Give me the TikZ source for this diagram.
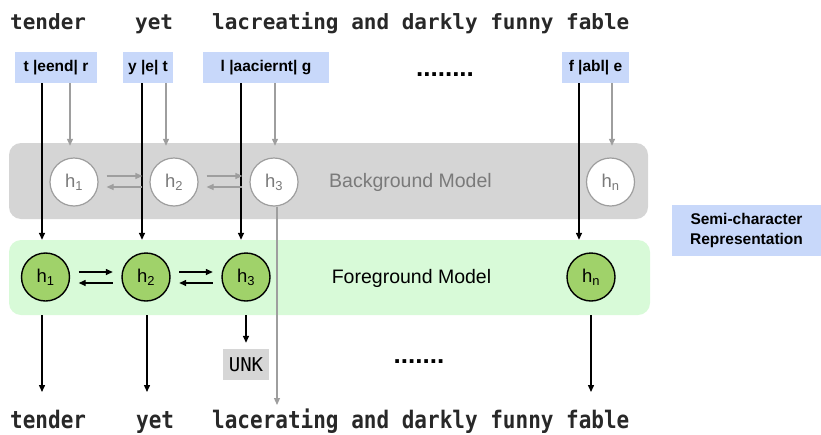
\documentclass[tikz,border=0pt]{standalone}
\usepackage{fontspec}
\setmainfont{Liberation Sans}
\newfontfamily\wordfont{DejaVu Sans Mono}
\usetikzlibrary{arrows.meta,positioning}
\definecolor{semiblue}{RGB}{200,216,250}
\definecolor{bgpanel}{RGB}{213,213,213}
\definecolor{fgpanel}{RGB}{216,250,216}
\definecolor{cellgreen}{RGB}{160,210,106}
\definecolor{bgline}{RGB}{158,158,158}
\definecolor{bgtext}{RGB}{122,122,122}
\definecolor{wordblack}{RGB}{40,40,40}
\definecolor{unkgray}{RGB}{214,214,214}
\tikzset{
  panel/.style={rectangle, rounded corners=12pt, inner sep=0pt},
  semibox/.style={rectangle, fill=semiblue, minimum height=31pt, inner sep=0pt, font=\fontsize{15.5}{18}\selectfont\bfseries},
  bgcell/.style={circle, draw=bgline, fill=white, line width=1.2pt, minimum size=48pt, inner sep=0pt, text=bgtext, font=\fontsize{18.5}{20}\selectfont},
  fgcell/.style={circle, draw=black, fill=cellgreen, line width=1.4pt, minimum size=48pt, inner sep=0pt, font=\fontsize{18.5}{20}\selectfont},
  blk/.style={line width=1.4pt, -{Triangle[length=7pt,width=6pt]}},
  gry/.style={line width=1.2pt, draw=bgline, -{Triangle[length=7pt,width=6pt]}},
  word/.style={anchor=base west, inner sep=0pt, text=wordblack, font=\wordfont\bfseries\fontsize{21}{24}\selectfont},
}
\begin{document}
\begin{tikzpicture}[x=1pt,y=-1pt]
\useasboundingbox (0,0) rectangle (821,434);

% Input sentence
\node[word] (tw1) at (10,29) {tender};
\node[word] (tw2) at (135,29) {yet};
\node[word] (tw3) at (212,29) {lacreating and darkly funny fable};

% Semi-character inputs
\node[semibox, minimum width=82pt] (tb) at (56,67.5) {t |eend| r};
\node[semibox, minimum width=50pt] (yb) at (148,67.5) {y |e| t};
\node[semibox, minimum width=126pt] (lb) at (266,67.5) {l |aaciernt| g};
\node[font=\fontsize{26}{26}\selectfont\bfseries] (topdots) at (445,75) {........};
\node[semibox, minimum width=67pt] (fb) at (595.5,67.5) {f |abl| e};

% Model panels
\node[panel, fill=bgpanel, minimum width=639pt, minimum height=76pt] (bg) at (328.5,181) {};
\node[panel, fill=fgpanel, minimum width=641pt, minimum height=75pt] (fg) at (329.5,277.5) {};
\node[text=bgtext, font=\fontsize{19.5}{22}\selectfont] (bglabel) at (410.5,182) {Background Model};
\node[font=\fontsize{19.5}{22}\selectfont] (fglabel) at (411.5,278) {Foreground Model};

% Background cells
\node[bgcell] (b1) at (74,182) {h\textsubscript{1}};
\node[bgcell] (b2) at (174,182) {h\textsubscript{2}};
\node[bgcell] (b3) at (274,182) {h\textsubscript{3}};
\node[bgcell] (bn) at (610.5,182) {h\textsubscript{n}};

% Foreground cells
\node[fgcell] (f1) at (45.5,277) {h\textsubscript{1}};
\node[fgcell] (f2) at (146,277) {h\textsubscript{2}};
\node[fgcell] (f3) at (246,277) {h\textsubscript{3}};
\node[fgcell] (fn) at (591,277) {h\textsubscript{n}};

% Legend
\node[rectangle, fill=semiblue, minimum width=149pt, minimum height=51pt, inner sep=0pt, align=center,
  font=\fontsize{15.5}{20}\selectfont\bfseries] (legend) at (746.5,230.5) {Semi-character\\Representation};

% Outputs
\node[rectangle, fill=unkgray, minimum width=46pt, minimum height=31pt, inner sep=0pt,
  font=\wordfont\fontsize{19}{20}\selectfont] (unk) at (246,364.5) {UNK};
\node[font=\fontsize{26}{26}\selectfont\bfseries] (botdots) at (419,362) {.......};

% Column guides
\foreach \n/\x in {c1/42, c2/142, c3/241, cn/579, g1/70, g2/166, g3/275, gn/612}
  \coordinate (\n) at (\x,0);
\foreach \n/\x in {e1/42, e2/147, en/591}
  \coordinate (\n) at (\x,392);
\coordinate (gend) at (277,405);

% Arrows into the models
\foreach \s/\c in {tb/c1, yb/c2, lb/c3, fb/cn}
  \draw[blk] (\s.south -| \c) -- (fg.north -| \c);
\foreach \s/\c in {tb/g1, yb/g2, lb/g3, fb/gn}
  \draw[gry, shorten >=-3pt] (\s.south -| \c) -- (bg.north -| \c);

% Recurrent links
\foreach \a/\b in {b1/b2, b2/b3} {
  \draw[gry, shorten <=8pt, shorten >=7pt] ([yshift=6pt]\a.east) -- ([yshift=6pt]\b.west);
  \draw[gry, shorten <=7pt, shorten >=8pt] ([yshift=-5pt]\b.west) -- ([yshift=-5pt]\a.east);
}
\foreach \a/\b in {f1/f2, f2/f3} {
  \draw[blk, shorten <=8.5pt, shorten >=8.5pt] ([yshift=5pt]\a.east) -- ([yshift=5pt]\b.west);
  \draw[blk, shorten <=8.5pt, shorten >=8.5pt] ([yshift=-6pt]\b.west) -- ([yshift=-6pt]\a.east);
}

% Arrows out of the models
\foreach \e in {e1, e2, en}
  \draw[blk] (fg.south -| \e) -- (\e);
\draw[blk, shorten >=6pt] (fg.south -| unk) -- (unk.north);
\draw[gry] (b3.south -| gend) -- (gend);

% Output sentence
\node[word, transform shape, yscale=1.15] (bw1) at (10,428) {tender};
\node[word, transform shape, yscale=1.15] (bw2) at (136,428) {yet};
\node[word, transform shape, yscale=1.15] (bw3) at (212,428) {lacerating and darkly funny fable};
\end{tikzpicture}
\end{document}
